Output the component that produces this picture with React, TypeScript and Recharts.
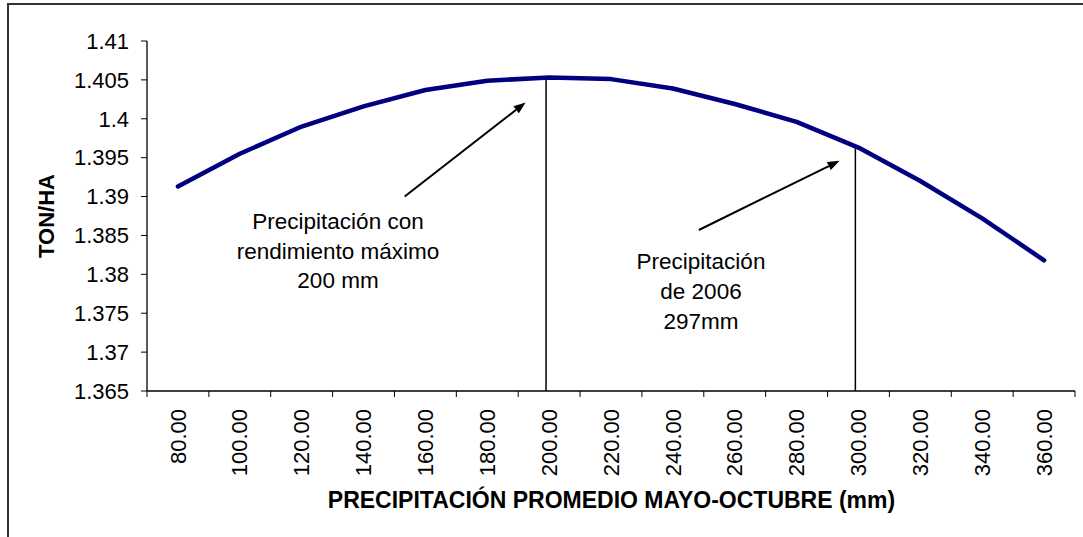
import { LineChart, Line, XAxis, YAxis, ReferenceLine } from 'recharts';

const RAIN = [80, 100, 120, 140, 160, 180, 200, 220, 240, 260, 280, 300, 320, 340, 360];
const YIELD = [
  1.3913, 1.3955, 1.399, 1.4016, 1.4037, 1.4049, 1.4053, 1.4051, 1.4039, 1.4019, 1.3996, 1.3963,
  1.392, 1.3872, 1.3818,
];
// category borders (odd tens) get only a tick mark, category centres get the label
const X_TICKS = [
  70, 80, 90, 100, 110, 120, 130, 140, 150, 160, 170, 180, 190, 200, 210, 220, 230, 240, 250, 260,
  270, 280, 290, 300, 310, 320, 330, 340, 350, 360, 370,
];
const Y_TICKS = [1.365, 1.37, 1.375, 1.38, 1.385, 1.39, 1.395, 1.4, 1.405, 1.41];

const MAX_RAIN = 199;
const MAX_TOP = 1.4052;
const RAIN_2006 = 299;
const RAIN_2006_TOP = 1.3964;

const ARROW_MAX = [
  { x: 153.3, y: 1.39 },
  { x: 192.4, y: 1.4021 },
];
const ARROW_2006 = [
  { x: 248.4, y: 1.3857 },
  { x: 293.9, y: 1.3946 },
];

const FONT = '"Liberation Sans", Arial, sans-serif';

const data = RAIN.map((r, i) => ({ rain: r, yield: YIELD[i] }));

function XTick({ x, y, payload }: any) {
  const v = payload.value;
  if (v % 20 === 10) {
    return <line x1={x} y1={y} x2={x} y2={y + 6} stroke="#000" strokeWidth={1} />;
  }
  const ty = y + 18;
  return (
    <text
      x={x}
      y={ty}
      transform={`rotate(-90, ${x}, ${ty})`}
      textAnchor="end"
      dy="0.35em"
      fontSize={22}
      fontFamily={FONT}
      fill="#000"
    >
      {v.toFixed(2)}
    </text>
  );
}

function Arrow(props: any) {
  const { x1, y1, x2, y2 } = props;
  const a = Math.atan2(y2 - y1, x2 - x1);
  const len = 12;
  const half = 4.5;
  const bx = x2 - len * Math.cos(a);
  const by = y2 - len * Math.sin(a);
  const pts = `${x2},${y2} ${bx + half * Math.sin(a)},${by - half * Math.cos(a)} ${bx - half * Math.sin(a)},${by + half * Math.cos(a)}`;
  return (
    <g>
      <line x1={x1} y1={y1} x2={bx} y2={by} stroke="#000" strokeWidth={2} />
      <polygon points={pts} fill="#000" />
    </g>
  );
}

export default function App() {
  return (
    <div>
      <div
        style={{
          position: 'absolute',
          left: 7,
          top: 3,
          width: 1076,
          height: 534,
          boxSizing: 'border-box',
          borderTop: '2px solid #333',
          borderLeft: '2px solid #333',
        }}
      />
      <div style={{ position: 'absolute', left: 0, top: 0, width: 1083, height: 537 }}>
        <LineChart
          width={1083}
          height={537}
          data={data}
          margin={{ top: 41, right: 8, left: 47, bottom: 46 }}
        >
          <XAxis
            dataKey="rain"
            type="number"
            domain={[70, 370]}
            ticks={X_TICKS}
            interval={0}
            height={100}
            tickSize={0}
            tickMargin={0}
            tickLine={false}
            axisLine={{ stroke: '#000', strokeWidth: 1.3 }}
            tick={<XTick />}
          />
          <YAxis
            type="number"
            domain={[1.365, 1.41]}
            ticks={Y_TICKS}
            interval={0}
            width={100}
            tickSize={6}
            tickMargin={12}
            axisLine={{ stroke: '#000', strokeWidth: 1.3 }}
            tickLine={{ stroke: '#000' }}
            tick={{ fill: '#000', fontSize: 22, fontFamily: FONT }}
            tickFormatter={(v: number) => String(Number(v.toFixed(3)))}
          />
          <ReferenceLine
            segment={[
              { x: MAX_RAIN, y: 1.365 },
              { x: MAX_RAIN, y: MAX_TOP },
            ]}
            stroke="#000"
            strokeWidth={1.5}
          />
          <ReferenceLine
            segment={[
              { x: RAIN_2006, y: 1.365 },
              { x: RAIN_2006, y: RAIN_2006_TOP },
            ]}
            stroke="#000"
            strokeWidth={1.5}
          />
          <ReferenceLine segment={ARROW_MAX} shape={Arrow} />
          <ReferenceLine segment={ARROW_2006} shape={Arrow} />
          <Line
            type="linear"
            dataKey="yield"
            stroke="#000080"
            strokeWidth={4.5}
            strokeLinejoin="round"
            strokeLinecap="round"
            dot={false}
            isAnimationActive={false}
          />
        </LineChart>
      </div>
      <svg
        width={1083}
        height={537}
        style={{ position: 'absolute', left: 0, top: 0, pointerEvents: 'none' }}
        fontFamily={FONT}
      >
        <text x={338} textAnchor="middle" fontSize={22.5} fill="#000">
          <tspan x={338} y={229}>Precipitación con</tspan>
          <tspan x={338} y={259}>rendimiento máximo</tspan>
          <tspan x={338} y={288}>200 mm</tspan>
        </text>
        <text x={701} textAnchor="middle" fontSize={22.5} fill="#000">
          <tspan x={701} y={269}>Precipitación</tspan>
          <tspan x={701} y={299}>de 2006</tspan>
          <tspan x={701} y={329}>297mm</tspan>
        </text>
        <text
          x={46}
          y={216}
          transform="rotate(-90, 46, 216)"
          textAnchor="middle"
          dy="0.35em"
          fontSize={22}
          fontWeight="bold"
          fill="#000"
        >
          TON/HA
        </text>
        <text x={611.5} y={508} textAnchor="middle" fontSize={23} fontWeight="bold" fill="#000">
          PRECIPITACIÓN PROMEDIO MAYO-OCTUBRE (mm)
        </text>
      </svg>
    </div>
  );
}
